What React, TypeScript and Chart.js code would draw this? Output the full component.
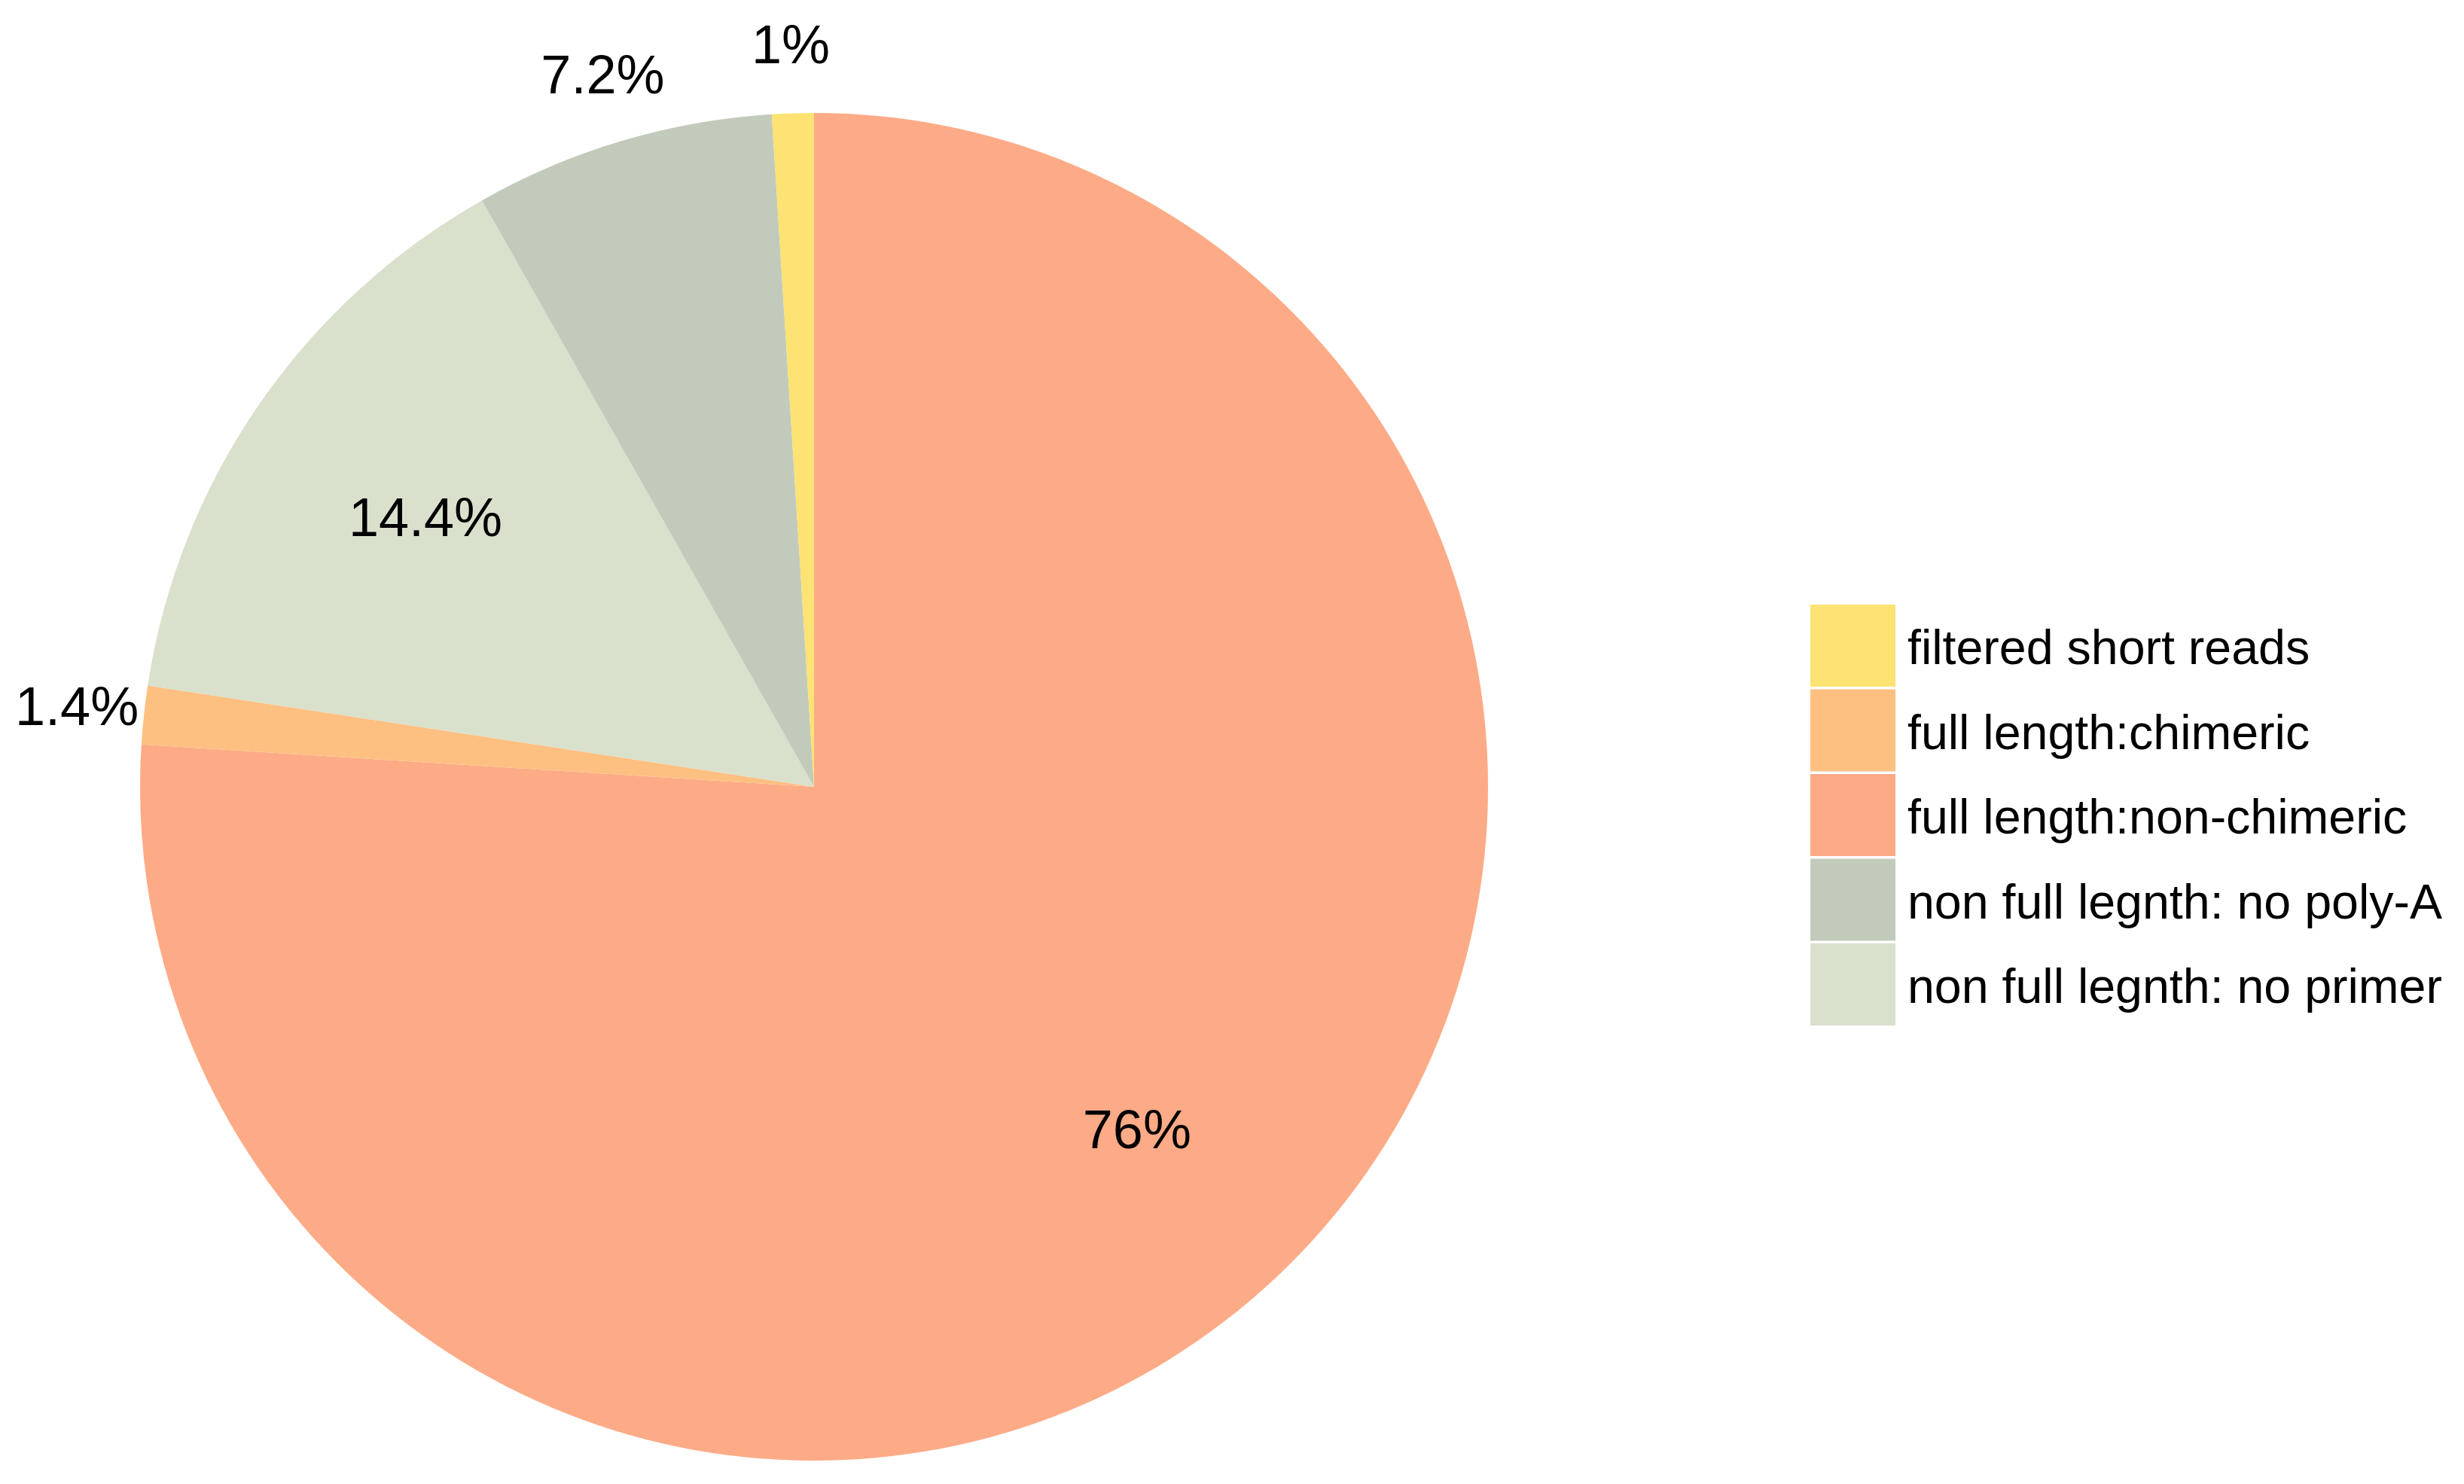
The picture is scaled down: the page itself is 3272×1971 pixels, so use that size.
import React, { useEffect, useRef } from "react";
import { Chart, registerables } from "chart.js";

Chart.register(...registerables);

// Legend order (as shown in the legend)
const categories = [
  "filtered short reads",
  "full length:chimeric",
  "full length:non-chimeric",
  "non full legnth: no poly-A",
  "non full legnth: no primer",
];
const percentages = [1, 1.4, 76, 7.2, 14.4];
const sliceColors = ["#FDE274", "#FDC081", "#FDAB87", "#C2CBBB", "#D9E0CC"];
const percentLabels = ["1%", "1.4%", "76%", "7.2%", "14.4%"];
// clockwise drawing order starting at 12 o'clock
const drawOrder = [2, 1, 4, 3, 0];

const FONT = "'Liberation Sans', Arial, Helvetica, sans-serif";

const W = 3272;
const H = 1971;

export default function App() {
  const canvasRef = useRef<HTMLCanvasElement | null>(null);

  useEffect(() => {
    document.body.style.margin = "0";
    const canvas = canvasRef.current;
    if (!canvas) return;

    const orderedLabels = drawOrder.map((i) => categories[i]);
    const orderedValues = drawOrder.map((i) => percentages[i]);
    const orderedColors = drawOrder.map((i) => sliceColors[i]);
    const orderedText = drawOrder.map((i) => percentLabels[i]);

    const labelPlugin = {
      id: "sliceLabels",
      afterDraw(chart: any) {
        const ctx = chart.ctx as CanvasRenderingContext2D;
        const meta = chart.getDatasetMeta(0);
        ctx.save();
        ctx.fillStyle = "#000000";
        ctx.font = `72px ${FONT}`;
        ctx.textAlign = "center";
        ctx.textBaseline = "middle";
        meta.data.forEach((arc: any, idx: number) => {
          const p = arc.getProps(["x", "y", "startAngle", "endAngle", "outerRadius"], true);
          const mid = (p.startAngle + p.endAngle) / 2;
          const val = orderedValues[idx];
          const rf = val >= 10 ? 0.7 : 1.1;
          const x = p.x + Math.cos(mid) * p.outerRadius * rf;
          const y = p.y + Math.sin(mid) * p.outerRadius * rf;
          ctx.fillText(orderedText[idx], x, y + 3);
        });

        // legend
        const boxX = 2404;
        const boxW = 113;
        const boxH = 109;
        const pitch = 112.5;
        const top = 803;
        ctx.font = `64.5px ${FONT}`;
        ctx.textAlign = "left";
        ctx.textBaseline = "middle";
        categories.forEach((name, i) => {
          const y = top + i * pitch;
          ctx.fillStyle = sliceColors[i];
          ctx.fillRect(boxX, y, boxW, boxH);
          ctx.fillStyle = "#000000";
          ctx.fillText(name, 2533, y + boxH / 2 + 7);
        });
        ctx.restore();
      },
    };

    const chart = new Chart(canvas, {
      type: "pie",
      data: {
        labels: orderedLabels,
        datasets: [
          {
            data: orderedValues,
            backgroundColor: orderedColors,
            borderWidth: 0,
            hoverOffset: 0,
            offset: 0,
          },
        ],
      },
      options: {
        animation: false,
        responsive: false,
        devicePixelRatio: 1,
        rotation: 0,
        layout: {
          padding: { left: 186, top: 150, right: 1296, bottom: 31 },
        },
        plugins: {
          legend: { display: false },
          tooltip: { enabled: false },
        },
      },
      plugins: [labelPlugin],
    });

    return () => chart.destroy();
  }, []);

  return (
    <div style={{ position: "absolute", left: 0, top: 0, width: W, height: H, background: "#ffffff" }}>
      <canvas ref={canvasRef} width={W} height={H} style={{ width: W, height: H, display: "block" }} />
    </div>
  );
}
